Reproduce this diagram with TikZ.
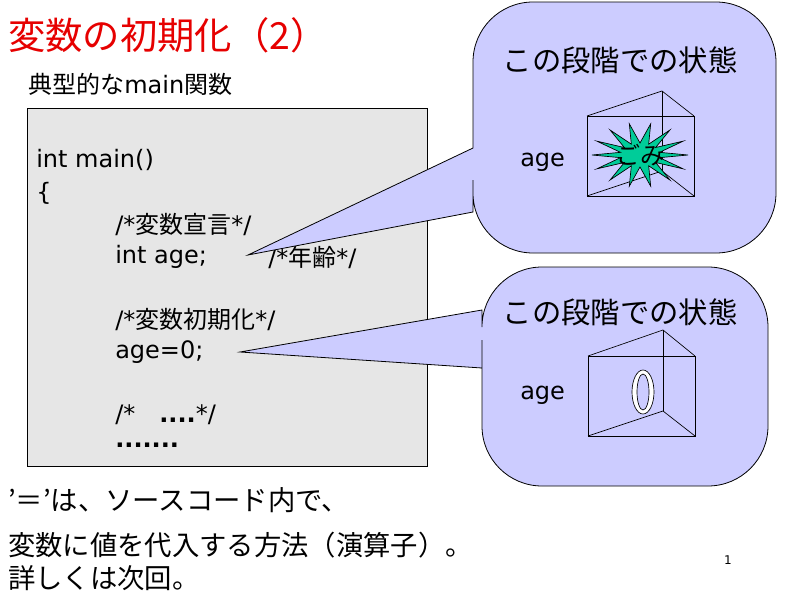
\documentclass[tikz,border=0pt]{standalone}
\usepackage{fontspec}
\setmainfont{DejaVu Sans}
\newfontfamily\jp{Noto Sans CJK JP}
\usetikzlibrary{positioning}
\definecolor{codegray}{RGB}{230,230,230}
\definecolor{lavender}{RGB}{204,204,255}
\definecolor{gomigreen}{RGB}{0,204,153}
\definecolor{titlered}{RGB}{230,0,0}
\begin{document}
\begin{tikzpicture}[x=0.75pt,y=-0.75pt,
        code/.style={anchor=west, inner sep=0pt, font=\fontsize{18}{20}\selectfont},
        label/.style={anchor=west, inner sep=0pt, font=\fontsize{18}{22}\selectfont},
        heading/.style={inner sep=0pt, font=\jp\fontsize{22}{24}\selectfont},
        note/.style={anchor=west, inner sep=0pt, font=\jp\fontsize{20.5}{22}\selectfont},
        callout/.style={draw, fill=lavender, line width=0.6pt},
        prism/.style={draw, line width=0.5pt}
        ]
        \useasboundingbox (0,0) rectangle (800,600);

        % Title and caption
        \node (title) [anchor=west, inner sep=0pt, text=titlered, font=\jp\fontsize{28}{30}\selectfont] at (8,35) {変数の初期化（2）};
        \node (sub) [label] at (28,84) {{\jp 典型的な}main{\jp 関数}};

        % Code box
        \draw [fill=codegray, line width=0.5pt] (27,108) rectangle (427,466);
        \node (l1) [code] at (36,160) {int main()};
        \node (l2) [code] at (36,193) {\{};
        \node (l3) [code] at (115,225) {/*{\jp 変数宣言}*/};
        \node (l4) [code] at (115,257) {int age;};
        \node (l4c) [code] at (268,257) {/*{\jp 年齢}*/};
        \node (l5) [code] at (115,320) {/*{\jp 変数初期化}*/};
        \node (l6) [code] at (115,352) {age=0;};
        \node (l7) [code] at (115,415) {/*\quad \textbf{....}*/};
        \node (l8) [code] at (115,445) {\textbf{.......}};

        % Callouts
        \coordinate (tip1) at (248,255);
        \coordinate (tip2) at (240,352);
        \draw [callout, rounded corners=45] (473,180) -- (473,253) -- (776,253) -- (776,2) -- (473,2)
            [sharp corners] -- (473,148) -- (tip1) -- (473,212) -- cycle;
        \draw [callout, rounded corners=45] (482,340) -- (482,486) -- (768,486) -- (768,267) -- (482,267)
            [sharp corners] -- (482,310) -- (tip2) -- (482,368) -- cycle;

        \node (state1) [heading] at (620,60) {この段階での状態};
        \node (state2) [heading] at (620,312) {この段階での状態};
        \node (age1) [label] at (520,162) {age};
        \node (age2) [label] at (520,395) {age};

        % Variable box 1 with garbage
        \draw [prism] (587,116) rectangle (694,196);
        \draw [prism] (587,116) -- (662,91) -- (694,116);
        \draw [prism] (662,91) -- (662,171);
        \draw [prism] (587,196) -- (662,171) -- (694,196);
        \draw [fill=gomigreen, line width=0.5pt] (688,155)
            \foreach \i in {1,...,27} {
                -- ({640+(mod(\i,2)==1 ? 20 : 48)*cos(\i*360/28)}, {155+(mod(\i,2)==1 ? 12 : 32)*sin(\i*360/28)})
            } -- cycle;
        \node (gomi) [inner sep=0pt, font=\jp\fontsize{18}{22}\selectfont] at (640,155) {ごみ};

        % Variable box 2 with zero
        \draw [prism] (588,356) rectangle (695,436);
        \draw [prism] (588,356) -- (663,330) -- (695,356);
        \draw [prism] (663,330) -- (663,411);
        \draw [prism] (588,436) -- (663,411) -- (695,436);
        \draw [fill=white, line width=0.5pt] (643,392) ellipse [x radius=11, y radius=22];
        \draw [fill=lavender, line width=0.5pt] (643,392) ellipse [x radius=6, y radius=18];

        % Notes
        \node (n1) [note] at (8,500) {’＝’は、ソースコード内で、};
        \node (n2) [note] at (8,545) {変数に値を代入する方法（演算子）。};
        \node (n3) [note] at (8,578) {詳しくは次回。};
        \node (page) [inner sep=0pt, font=\fontsize{9}{10}\selectfont] at (728,560) {1};
\end{tikzpicture}
\end{document}
